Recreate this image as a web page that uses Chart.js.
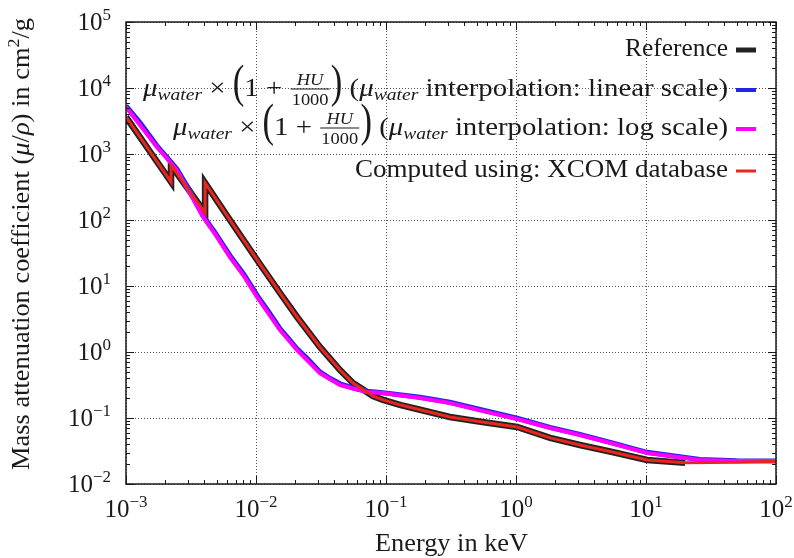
<!DOCTYPE html>
<html>
<head>
<meta charset="utf-8">
<script src="https://cdn.jsdelivr.net/npm/chart.js@4.4.1/dist/chart.umd.min.js"></script>
<style>
  html, body { margin: 0; padding: 0; background: #fff; }
  canvas { display: block; }
</style>
</head>
<body>
<canvas id="muChart" width="794" height="558"></canvas>
<script>
// energies in keV, mu/rho in cm2/g
const refEnergy = [0.001, 0.0015, 0.00222, 0.00222, 0.003, 0.00406, 0.00406, 0.0063, 0.0102, 0.0153, 0.0207, 0.031,
  0.0443, 0.0557, 0.0665, 0.0794, 0.0948, 0.13, 0.173, 0.31, 0.55, 1.02, 1.83, 3.1, 5.5, 10.2, 20];
const refMu = [3640, 1150, 377, 680, 295, 128, 364, 100, 24.8, 7.83, 3.39, 1.19,
  0.533, 0.339, 0.27, 0.215, 0.188, 0.157, 0.137, 0.1035, 0.087, 0.073, 0.05, 0.039, 0.0305, 0.0231, 0.0209];

const waterEnergy = [0.001, 0.00128, 0.00173, 0.0021, 0.00247, 0.0031, 0.00391, 0.0048, 0.0063, 0.0081, 0.0102, 0.0125,
  0.0153, 0.0178, 0.0207, 0.025, 0.031, 0.037, 0.0443, 0.056, 0.0714, 0.095, 0.183, 0.31, 0.55, 1.02, 1.83, 3.1, 5.5,
  10.2, 26, 50, 100];
const linearMu = [5350, 3000, 1330, 860, 590, 275, 116, 66, 29, 14.8, 7.2, 4.1,
  2.25, 1.6, 1.12, 0.78, 0.5, 0.4, 0.33, 0.285, 0.255, 0.242, 0.206, 0.173, 0.132, 0.099, 0.072, 0.0565, 0.042,
  0.0302, 0.0235, 0.0226, 0.0224];
const logMu = [5150, 2750, 1277, 824, 560, 254, 111, 63, 27.5, 14, 6.8, 3.82,
  2.15, 1.52, 1.07, 0.736, 0.48, 0.39, 0.316, 0.28, 0.248, 0.239, 0.201, 0.169, 0.128, 0.0966, 0.0705, 0.0552, 0.041,
  0.0295, 0.0231, 0.0224, 0.0223];

const xcomEnergy = [0.001, 0.0015, 0.00222, 0.00222, 0.003, 0.00406, 0.00406, 0.0063, 0.0102, 0.0153, 0.0207, 0.031,
  0.0443, 0.0557, 0.0665, 0.0794, 0.0948, 0.13, 0.173, 0.31, 0.55, 1.02, 1.83, 3.1, 5.5, 10.2, 20, 50, 100];
const xcomMu = [3640, 1150, 377, 680, 295, 128, 364, 100, 24.8, 7.83, 3.39, 1.19,
  0.533, 0.339, 0.27, 0.215, 0.188, 0.157, 0.137, 0.1035, 0.087, 0.073, 0.05, 0.039, 0.0305, 0.0231, 0.0209, 0.0214, 0.0221];

const xDecades = [-3, -2, -1, 0, 1, 2];
const yDecades = [-2, -1, 0, 1, 2, 3, 4, 5];

const SERIF = '"Liberation Serif", "Times New Roman", serif';
const font = (size, style = '') => `${style} ${size}px ${SERIF}`.trim();
const INK = '#1a1a1a';

const zip = (xs, ys) => xs.map((x, i) => ({ x: x, y: ys[i] }));

// legend label pieces (math drawn by hand)
const muWater = () => [
  { t: 'μ', font: font(25, 'italic') },
  { t: 'water', font: font(17, 'italic'), dy: 4 }
];
const hu = () => [
  { t: ' × ', font: font(25) },
  { t: '(', font: font(30), dy: 1, sy: 1.56 },
  { t: '1 + ', font: font(25) },
  { frac: [{ t: 'HU', font: font(16, 'italic') }, { t: '1000', font: font(16) }] },
  { t: ')', font: font(30), dy: 1, sy: 1.56 },
  { t: ' (', font: font(25) }
];

const legendRows = [
  { pieces: [{ t: 'Reference', font: font(25) }], color: '#222222', lw: 5, base: 56, width: 103 },
  { pieces: [...muWater(), ...hu(), ...muWater(), { t: ' interpolation: linear scale)', font: font(25) }],
    color: '#2424e6', lw: 4, base: 96, width: 585 },
  { pieces: [...muWater(), ...hu(), ...muWater(), { t: ' interpolation: log scale)', font: font(25) }],
    color: '#ff00ff', lw: 4, base: 135, width: 555 },
  { pieces: [{ t: 'Computed using: XCOM database', font: font(25) }], color: '#e8261e', lw: 3, base: 177, width: 373 }
];

function pieceWidth(ctx, p) {
  if (p.frac) {
    return Math.max(...p.frac.map(q => { ctx.font = q.font; return ctx.measureText(q.t).width; })) + 4;
  }
  ctx.font = p.font;
  return ctx.measureText(p.t).width;
}

function drawPieces(ctx, pieces, x, y, align, targetWidth) {
  const widths = pieces.map(p => pieceWidth(ctx, p));
  const total = widths.reduce((a, b) => a + b, 0);
  const s = targetWidth ? targetWidth / total : 1;
  const start = align === 'right' ? x - total * s : align === 'center' ? x - total * s / 2 : x;
  ctx.save();
  ctx.translate(start, y);
  ctx.scale(s, 1);
  ctx.fillStyle = INK;
  ctx.strokeStyle = INK;
  ctx.textBaseline = 'alphabetic';
  ctx.textAlign = 'left';
  let cx = 0;
  pieces.forEach((p, i) => {
    const w = widths[i];
    if (p.frac) {
      ctx.textAlign = 'center';
      ctx.font = p.frac[0].font;
      ctx.fillText(p.frac[0].t, cx + w / 2, -11);
      ctx.font = p.frac[1].font;
      ctx.fillText(p.frac[1].t, cx + w / 2, 9);
      ctx.textAlign = 'left';
      ctx.lineWidth = 0.9;
      ctx.beginPath();
      ctx.moveTo(cx + 1, -7);
      ctx.lineTo(cx + w - 1, -7);
      ctx.stroke();
    } else if (p.sy) {
      // tall delimiters: stretch vertically only so strokes stay thin
      ctx.save();
      ctx.translate(cx, p.dy || 0);
      ctx.scale(1, p.sy);
      ctx.font = p.font;
      ctx.fillText(p.t, 0, 0);
      ctx.restore();
    } else {
      ctx.font = p.font;
      ctx.fillText(p.t, cx, p.dy || 0);
    }
    cx += w;
  });
  ctx.restore();
}

const powerLabel = d => [
  { t: '10', font: font(25) },
  { t: d < 0 ? '−' + (-d) : String(d), font: font(17), dy: -10 }
];

const gnuplotFrame = {
  id: 'gnuplotFrame',
  beforeDatasetsDraw(chart) {
    const { ctx, chartArea: a, scales } = chart;
    ctx.save();
    ctx.strokeStyle = '#555';
    ctx.lineWidth = 1;
    ctx.setLineDash([1, 2]);
    xDecades.forEach(d => {
      const px = Math.round(scales.x.getPixelForValue(Math.pow(10, d))) + 0.5;
      ctx.beginPath(); ctx.moveTo(px, a.top); ctx.lineTo(px, a.bottom); ctx.stroke();
    });
    yDecades.forEach(d => {
      const py = Math.round(scales.y.getPixelForValue(Math.pow(10, d))) + 0.5;
      ctx.beginPath(); ctx.moveTo(a.left, py); ctx.lineTo(a.right, py); ctx.stroke();
    });
    ctx.restore();
  },
  afterDatasetsDraw(chart) {
    const { ctx, chartArea: a, scales } = chart;
    ctx.save();
    // ticks on all four sides, pointing inwards
    ctx.strokeStyle = INK;
    ctx.lineWidth = 1;
    const tick = (decades, fn) => {
      decades.forEach((d, i) => {
        fn(Math.pow(10, d), 8);
        if (i < decades.length - 1) {
          for (let k = 2; k <= 9; k++) fn(k * Math.pow(10, d), 4);
        }
      });
    };
    tick(xDecades, (v, len) => {
      const px = Math.round(scales.x.getPixelForValue(v)) + 0.5;
      ctx.beginPath();
      ctx.moveTo(px, a.bottom); ctx.lineTo(px, a.bottom - len);
      ctx.moveTo(px, a.top); ctx.lineTo(px, a.top + len);
      ctx.stroke();
    });
    tick(yDecades, (v, len) => {
      const py = Math.round(scales.y.getPixelForValue(v)) + 0.5;
      ctx.beginPath();
      ctx.moveTo(a.left, py); ctx.lineTo(a.left + len, py);
      ctx.moveTo(a.right, py); ctx.lineTo(a.right - len, py);
      ctx.stroke();
    });
    ctx.lineWidth = 1.5;
    ctx.strokeRect(a.left, a.top, a.right - a.left, a.bottom - a.top);

    // tick labels
    xDecades.forEach(d => {
      drawPieces(ctx, powerLabel(d), scales.x.getPixelForValue(Math.pow(10, d)), a.bottom + 33, 'center');
    });
    yDecades.forEach(d => {
      drawPieces(ctx, powerLabel(d), a.left - 15, scales.y.getPixelForValue(Math.pow(10, d)) + 8, 'right');
    });

    // axis titles
    drawPieces(ctx, [{ t: 'Energy in keV', font: font(25) }], (a.left + a.right) / 2 + 0.5, 551, 'center', 153);
    ctx.save();
    ctx.translate(29, 244);
    ctx.rotate(-Math.PI / 2);
    drawPieces(ctx, [
      { t: 'Mass attenuation coefficient (', font: font(25) },
      { t: 'μ', font: font(25, 'italic') },
      { t: '/', font: font(25) },
      { t: 'ρ', font: font(25, 'italic') },
      { t: ') in cm', font: font(25) },
      { t: '2', font: font(17), dy: -10 },
      { t: '/g', font: font(25) }
    ], 0, 0, 'center', 452);
    ctx.restore();

    // legend
    legendRows.forEach(row => {
      drawPieces(ctx, row.pieces, 728, row.base, 'right', row.width);
      ctx.strokeStyle = row.color;
      ctx.lineWidth = row.lw;
      ctx.beginPath();
      ctx.moveTo(736, row.base - 6);
      ctx.lineTo(756, row.base - 6);
      ctx.stroke();
    });
    ctx.restore();
  }
};

const lineSet = (label, data, color, width, order) => ({
  label: label,
  data: data,
  borderColor: color,
  backgroundColor: color,
  borderWidth: width,
  borderJoinStyle: 'miter',
  pointRadius: 0,
  showLine: true,
  tension: 0,
  order: order
});

new Chart(document.getElementById('muChart').getContext('2d'), {
  type: 'scatter',
  data: {
    datasets: [
      lineSet('Reference', zip(refEnergy, refMu), '#222222', 6.5, 4),
      lineSet('linear scale', zip(waterEnergy, linearMu), '#2424e6', 5, 3),
      lineSet('log scale', zip(waterEnergy, logMu), '#ff00ff', 4, 2),
      lineSet('XCOM', zip(xcomEnergy, xcomMu), '#e8261e', 3, 1)
    ]
  },
  plugins: [gnuplotFrame],
  options: {
    responsive: false,
    animation: false,
    devicePixelRatio: 1,
    layout: { padding: { left: 126, right: 18, top: 22, bottom: 74 } },
    plugins: { legend: { display: false }, tooltip: { enabled: false } },
    scales: {
      x: { type: 'logarithmic', min: 1e-3, max: 1e2, display: false },
      y: { type: 'logarithmic', min: 1e-2, max: 1e5, display: false }
    }
  }
});
</script>
</body>
</html>
